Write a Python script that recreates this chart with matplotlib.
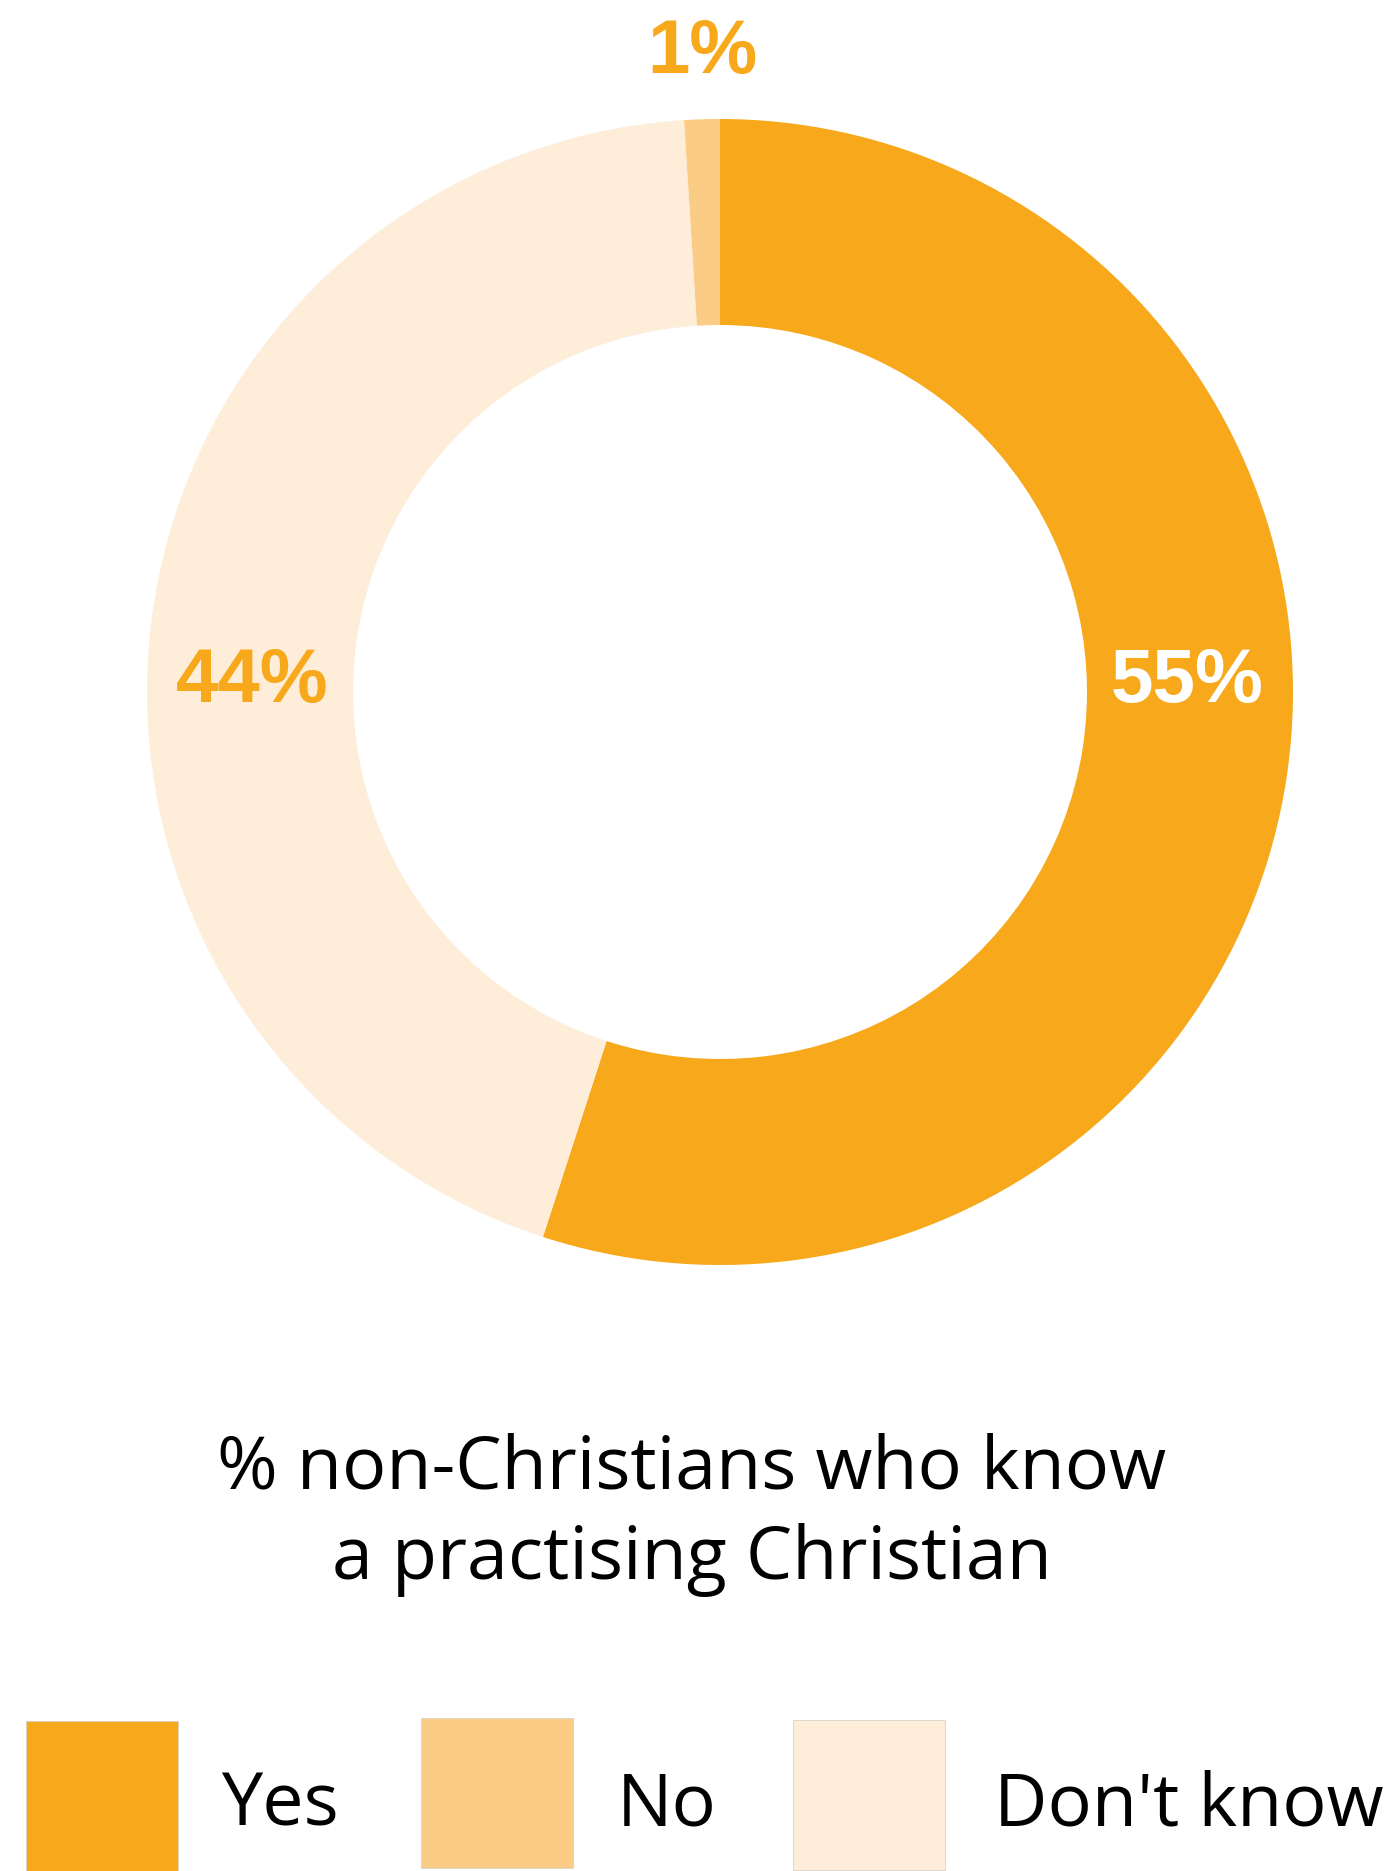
import matplotlib
matplotlib.use("Agg")
import matplotlib.pyplot as plt
from matplotlib.patches import Rectangle

# Data
categories = ["Yes", "No", "Don't know"]
values = [55, 1, 44]
colors = ["#F7A81B", "#FBCC85", "#FDEDD9"]
label_colors = ["white", "#F7A81B", "#F7A81B"]
pie_order = [0, 2, 1]  # clockwise from 12 o'clock: Yes, Don't know, No
title = "% non-Christians who know\na practising Christian"

W, H = 1398, 1871
fig = plt.figure(figsize=(W / 100, H / 100), dpi=100)
ax = fig.add_axes([0, 0, 1, 1])

cx, cy = 720, H - 692
R_out, R_in = 573, 367

ax.pie([values[i] for i in pie_order],
       colors=[colors[i] for i in pie_order],
       startangle=90, counterclock=False,
       radius=R_out, center=(cx, cy),
       wedgeprops=dict(width=R_out - R_in, linewidth=0))

r_mid = (R_out + R_in) / 2
num_font = dict(family=["Liberation Sans", "DejaVu Sans"], fontweight="bold", fontsize=55)
ax.text(cx + r_mid - 3, cy + 10, f"{values[0]}%", color=label_colors[0],
        ha="center", va="center", **num_font)
ax.text(cx - r_mid + 2, cy + 10, f"{values[2]}%", color=label_colors[2],
        ha="center", va="center", **num_font)
ax.text(cx - 18, cy + 639, f"{values[1]}%", color=label_colors[1],
        ha="center", va="center", **num_font)

ax.text(692, H - 1515, title, ha="center", va="center", fontsize=53,
        family=["Open Sans", "DejaVu Sans"], color="black", linespacing=1.3)

# Legend
box_x = [26, 421, 793]
box_y = [1721, 1718, 1720]
text_x = [221, 617, 994]
box = 150
for i, cat in enumerate(categories):
    ax.add_patch(Rectangle((box_x[i], H - box_y[i] - box), box + 2, box,
                           facecolor=colors[i], edgecolor="#d9d2c8", linewidth=0.6))
    ax.text(text_x[i], H - 1807, cat, ha="left", va="center", fontsize=53,
            family=["Open Sans", "DejaVu Sans"], color="black")

ax.set_xlim(0, W)
ax.set_ylim(0, H)
ax.set_aspect("equal")
ax.axis("off")
fig.savefig("out.png", dpi=100)
